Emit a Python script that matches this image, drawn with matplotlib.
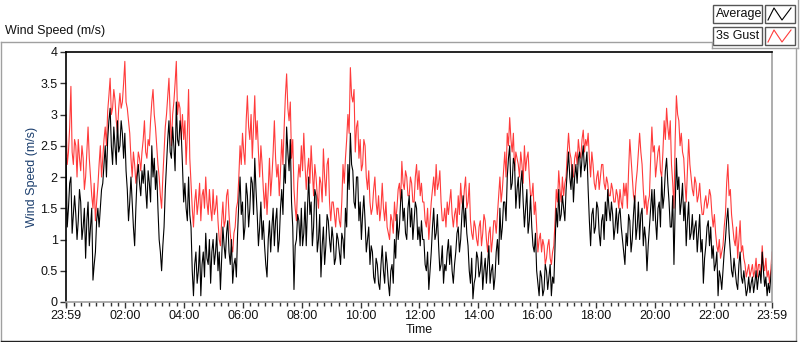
import numpy as np
import matplotlib
matplotlib.use("Agg")
import matplotlib.pyplot as plt
from matplotlib.lines import Line2D
from matplotlib.patches import Rectangle

plt.rcParams['font.family'] = ['Liberation Sans', 'DejaVu Sans']

# readings on the 5-minute grid, 23:59 -> 23:59 (minutes since start)
average = [
    2.3, 1.5, 2.0, 1.4, 1.4, 1.3, 1.6, 1.2, 0.7, 1.6, 1.2, 0.35,
    0.8, 1.5, 1.5, 1.9, 2.5, 2.6, 3.1, 2.2, 2.5, 2.9, 2.5, 2.7,
    2.7, 1.8, 1.6, 1.6, 0.9, 2.0, 1.9, 2.1, 2.2, 1.5, 1.9, 2.5,
    2.3, 2.1, 1.0, 0.5, 1.2, 2.2, 2.9, 2.3, 2.5, 3.2, 2.5, 2.7,
    1.6, 1.5, 2.0, 1.2, 0.1, 0.8, 0.5, 0.1, 0.8, 1.1, 0.6, 0.3,
    1.0, 0.8, 0.5, 0.2, 1.2, 0.7, 1.3, 0.6, 0.3, 0.7, 1.1, 2.0,
    1.6, 1.2, 1.7, 1.5, 1.9, 2.3, 1.4, 1.2, 1.0, 0.9, 0.4, 1.3,
    1.2, 0.9, 1.5, 1.0, 1.8, 2.2, 2.8, 2.1, 1.6, 0.2, 1.0, 1.3,
    1.5, 1.1, 0.9, 2.0, 1.6, 1.2, 1.7, 1.0, 0.4, 1.2, 0.9, 1.3,
    0.8, 1.0, 0.7, 1.0, 0.6, 1.0, 1.5, 2.2, 2.7, 2.1, 1.5, 2.0,
    1.6, 1.4, 1.3, 1.0, 0.6, 0.8, 0.3, 0.6, 0.2, 0.9, 0.3, 0.6,
    0.1, 0.6, 1.0, 1.4, 1.2, 1.8, 1.5, 1.0, 1.7, 1.5, 1.3, 1.5,
    1.2, 1.3, 1.0, 0.5, 0.2, 0.8, 1.5, 1.1, 0.9, 0.6, 0.3, 0.5,
    1.0, 0.9, 0.3, 0.8, 1.2, 1.0, 1.7, 1.5, 0.9, 0.3, 0.05, 0.4,
    0.7, 0.5, 0.2, 0.7, 0.6, 0.3, 0.6, 0.4, 1.0, 1.5, 1.2, 1.6,
    2.0, 2.5, 1.9, 2.2, 1.8, 1.5, 2.1, 1.2, 1.8, 1.3, 1.2, 0.8,
    0.5, 0.1, 0.4, 0.2, 0.5, 0.4, 0.1, 0.3, 1.5, 1.8, 1.4, 1.5,
    1.8, 2.4, 1.8, 1.6, 2.2, 2.3, 2.0, 2.5, 2.2, 1.8, 0.9, 1.5,
    1.2, 1.5, 0.9, 1.4, 1.6, 1.8, 1.3, 1.4, 1.2, 1.1, 1.5, 1.0,
    0.6, 0.9, 1.3, 1.0, 1.7, 1.2, 1.0, 1.5, 1.2, 0.5, 1.2, 1.8,
    1.8, 1.0, 1.6, 2.0, 1.7, 2.3, 1.6, 1.2, 0.6, 2.3, 2.0, 1.6,
    1.3, 0.9, 1.6, 1.1, 1.0, 1.3, 1.1, 0.8, 0.3, 0.9, 1.3, 1.2,
    0.9, 0.6, 0.1, 0.4, 0.5, 1.0, 1.5, 0.8, 0.4, 0.5, 0.2, 0.8,
    0.3, 0.3, 0.2, 0.15, 0.4, 0.3, 0.2, 0.5, 0.8, 0.25, 0.1, 0.15,
    0.6,
]
# readings halfway between the 5-minute samples
average_mid = [
    1.2, 1.9, 1.1, 1.7, 1.0, 1.8, 1.0, 1.5, 1.3, 0.9, 1.5, 0.6,
    1.3, 1.2, 1.8, 2.2, 2.0, 2.9, 2.5, 2.8, 2.2, 2.4, 2.9, 2.3,
    2.1, 1.3, 2.0, 1.2, 1.5, 2.2, 1.7, 1.9, 1.8, 2.1, 1.6, 2.0,
    1.8, 1.5, 0.8, 0.9, 1.8, 2.6, 2.4, 2.8, 2.1, 2.6, 2.9, 2.2,
    1.9, 1.3, 1.4, 0.5, 0.6, 0.3, 0.9, 0.6, 0.4, 0.7, 1.0, 0.8,
    0.6, 1.1, 0.8, 0.7, 0.9, 1.1, 0.8, 1.0, 0.6, 0.4, 1.6, 1.4,
    1.0, 1.9, 1.2, 2.0, 1.4, 1.8, 0.9, 1.6, 1.3, 0.6, 1.0, 0.8,
    1.5, 1.3, 0.8, 1.5, 1.4, 1.9, 2.4, 2.6, 1.2, 0.9, 1.4, 0.9,
    0.9, 1.6, 1.5, 1.4, 0.9, 1.8, 0.8, 1.4, 0.9, 0.6, 1.4, 1.0,
    1.2, 0.6, 1.1, 0.8, 1.1, 0.7, 1.2, 1.8, 2.2, 1.6, 2.0, 1.3,
    1.0, 1.7, 0.8, 1.2, 0.9, 0.4, 0.7, 0.3, 0.6, 0.5, 0.8, 0.3,
    0.5, 0.3, 0.7, 1.0, 1.6, 1.3, 1.1, 1.5, 1.2, 1.0, 1.6, 1.0,
    0.9, 1.0, 0.6, 0.8, 0.5, 1.2, 1.0, 1.4, 0.5, 0.9, 0.6, 0.8,
    0.6, 0.5, 0.6, 1.1, 0.8, 1.4, 1.2, 1.1, 0.5, 0.7, 0.3, 0.8,
    0.4, 0.8, 0.5, 0.3, 0.9, 0.5, 0.2, 0.8, 0.6, 1.0, 1.6, 1.3,
    2.3, 1.8, 2.3, 1.5, 2.0, 1.9, 1.6, 1.5, 1.1, 1.7, 0.9, 1.1,
    0.3, 0.5, 0.1, 0.6, 0.2, 0.6, 0.4, 0.9, 1.2, 1.3, 1.7, 1.3,
    2.1, 2.0, 2.2, 2.0, 1.9, 2.4, 2.3, 2.1, 2.4, 1.3, 1.4, 1.1,
    1.6, 1.1, 1.3, 1.0, 1.3, 1.5, 1.6, 1.0, 1.5, 1.4, 1.2, 0.8,
    1.1, 1.4, 0.8, 1.4, 1.0, 1.6, 1.4, 0.9, 1.0, 0.9, 1.5, 1.3,
    1.3, 1.5, 1.2, 1.5, 2.1, 1.9, 1.2, 1.7, 1.5, 1.8, 1.4, 1.9,
    1.6, 1.3, 1.0, 1.4, 1.2, 0.8, 1.4, 1.0, 0.7, 1.2, 0.9, 0.7,
    0.5, 0.8, 0.5, 0.2, 0.8, 1.3, 1.1, 0.5, 0.7, 0.3, 0.6, 0.4,
    0.5, 0.1, 0.4, 0.3, 0.15, 0.5, 0.4, 0.3, 0.5, 0.4, 0.3, 0.4,
]

gust = [
    3.0, 2.4, 3.45, 2.2, 2.5, 2.6, 2.1, 2.3, 2.0, 2.8, 2.0, 1.5,
    1.3, 1.85, 2.5, 2.3, 2.8, 3.05, 3.58, 3.1, 3.23, 2.7, 3.34, 3.2,
    3.85, 3.1, 2.7, 2.0, 2.2, 2.1, 2.3, 2.4, 2.9, 2.3, 2.5, 3.2,
    3.0, 2.5, 2.0, 1.5, 2.4, 3.0, 3.58, 2.5, 3.2, 3.85, 3.2, 2.6,
    2.6, 2.2, 3.4, 1.9, 1.2, 1.8, 1.6, 1.3, 1.8, 2.0, 1.4, 1.5,
    1.8, 1.5, 1.3, 0.9, 1.6, 1.3, 1.8, 1.1, 0.8, 1.2, 1.6, 2.5,
    2.7, 2.2, 3.3, 2.6, 2.3, 3.3, 2.9, 2.0, 2.2, 1.5, 1.4, 2.3,
    2.0, 2.9, 2.0, 1.7, 2.6, 2.8, 3.65, 2.9, 2.3, 1.8, 1.3, 2.2,
    2.5, 2.7, 1.8, 2.3, 2.5, 1.7, 2.0, 1.5, 1.9, 2.45, 1.7, 2.3,
    1.3, 1.6, 1.2, 1.5, 1.2, 2.2, 2.3, 3.0, 3.75, 3.2, 2.4, 2.9,
    2.6, 2.2, 2.5, 1.8, 1.6, 1.5, 2.0, 1.4, 1.3, 1.9, 1.3, 1.2,
    1.0, 1.3, 1.6, 1.5, 1.9, 2.25, 1.8, 2.0, 1.7, 1.9, 1.6, 2.2,
    2.1, 1.9, 1.6, 1.2, 1.0, 1.6, 2.0, 2.2, 1.9, 1.6, 1.3, 1.2,
    1.4, 1.8, 1.2, 1.5, 1.7, 1.9, 1.5, 2.0, 1.6, 1.3, 1.0, 1.2,
    0.9, 1.3, 1.1, 1.3, 0.8, 1.2, 1.0, 1.3, 1.4, 2.0, 1.8, 2.4,
    2.7, 2.95, 2.4, 2.1, 2.3, 2.0, 2.2, 2.5, 2.3, 2.0, 1.7, 1.4,
    1.2, 1.0, 0.8, 0.9, 0.7, 1.0, 0.6, 0.9, 1.8, 2.1, 1.6, 1.7,
    2.0, 2.7, 2.3, 2.0, 2.4, 2.6, 2.3, 2.75, 2.6, 2.7, 2.0, 2.2,
    1.8, 2.1, 2.0, 2.2, 1.8, 1.9, 1.7, 1.8, 1.6, 1.7, 1.8, 1.5,
    1.7, 1.5, 2.6, 2.0, 1.6, 2.1, 2.7, 2.2, 1.5, 1.4, 1.7, 2.8,
    2.5, 2.2, 2.5, 2.0, 2.9, 3.1, 2.6, 2.2, 1.5, 3.3, 2.9, 2.7,
    2.3, 1.6, 2.6, 2.0, 1.7, 1.9, 1.7, 1.6, 1.4, 1.7, 1.6, 1.7,
    1.2, 1.1, 0.8, 0.7, 0.9, 1.4, 2.2, 1.8, 1.2, 0.9, 0.7, 1.3,
    0.9, 0.6, 0.5, 0.4, 0.6, 0.5, 0.4, 0.6, 0.9, 0.5, 0.4, 0.3,
    0.8,
]
gust_mid = [
    2.2, 2.8, 2.4, 2.6, 2.0, 2.3, 2.5, 1.8, 2.4, 2.3, 1.7, 1.9,
    1.6, 2.2, 2.0, 2.6, 2.5, 3.3, 3.0, 3.4, 2.9, 3.1, 3.1, 3.5,
    3.2, 2.9, 2.3, 2.4, 1.9, 2.4, 2.1, 2.6, 2.4, 2.6, 2.9, 3.4,
    2.8, 2.2, 1.7, 2.0, 2.8, 3.3, 3.0, 3.0, 3.5, 3.0, 3.1, 3.0,
    2.9, 2.7, 2.3, 1.5, 1.6, 1.4, 1.9, 1.7, 1.5, 1.6, 1.8, 1.3,
    1.4, 1.7, 1.0, 1.3, 1.2, 1.7, 1.4, 0.9, 1.1, 1.5, 2.0, 2.2,
    2.4, 2.9, 2.8, 3.0, 2.8, 2.6, 2.4, 2.5, 1.8, 1.9, 1.8, 1.7,
    2.4, 2.3, 2.2, 2.1, 2.2, 3.3, 3.1, 3.2, 2.6, 1.5, 1.9, 2.0,
    2.1, 2.2, 2.1, 1.9, 2.1, 2.2, 1.7, 2.0, 1.6, 2.0, 2.2, 1.6,
    1.6, 1.4, 1.5, 1.3, 1.6, 1.9, 2.6, 2.7, 3.3, 3.4, 2.8, 2.3,
    2.1, 2.6, 2.0, 2.1, 1.4, 1.8, 1.6, 1.7, 1.5, 1.5, 1.6, 1.1,
    1.4, 1.1, 1.3, 1.8, 1.6, 1.9, 2.1, 1.7, 2.0, 1.6, 2.0, 1.8,
    1.7, 1.6, 1.3, 1.5, 1.3, 1.8, 1.7, 1.8, 2.1, 1.3, 1.5, 1.6,
    1.6, 1.4, 1.4, 1.2, 1.4, 1.6, 1.8, 1.5, 1.9, 1.1, 1.3, 1.0,
    1.2, 0.9, 1.4, 1.0, 1.1, 0.8, 1.3, 1.1, 1.7, 1.6, 2.1, 2.0,
    2.5, 2.6, 2.7, 2.4, 2.2, 2.4, 1.9, 2.1, 2.4, 1.7, 1.9, 1.6,
    0.8, 1.1, 1.0, 0.6, 0.9, 0.7, 0.8, 1.3, 1.6, 1.8, 2.0, 1.9,
    2.4, 2.4, 2.0, 2.3, 2.2, 2.4, 2.6, 2.4, 2.5, 2.3, 2.4, 1.9,
    2.0, 1.8, 2.2, 1.9, 2.0, 1.7, 1.9, 1.6, 1.8, 1.5, 1.6, 1.9,
    1.9, 2.1, 2.3, 1.7, 1.9, 2.4, 2.4, 1.8, 1.7, 1.6, 2.3, 2.4,
    2.0, 2.4, 2.1, 2.4, 2.6, 2.8, 2.9, 1.9, 2.6, 3.0, 2.5, 2.4,
    1.9, 2.1, 2.2, 1.8, 2.0, 1.6, 1.9, 1.4, 1.6, 1.5, 1.8, 1.4,
    1.4, 0.9, 1.0, 0.8, 1.2, 1.9, 1.7, 1.4, 1.0, 1.2, 1.0, 0.8,
    0.7, 0.4, 0.6, 0.5, 0.4, 0.7, 0.6, 0.4, 0.6, 0.7, 0.5, 0.5,
]

tick_pos = [0] + [121 + 120 * i for i in range(11)] + [1440]
tick_labels = ['23:59', '02:00', '04:00', '06:00', '08:00', '10:00', '12:00',
               '14:00', '16:00', '18:00', '20:00', '22:00', '23:59']
y_ticks = [0, 0.5, 1, 1.5, 2, 2.5, 3, 3.5, 4]
y_labels = ['0', '0.5', '1', '1.5', '2', '2.5', '3', '3.5', '4']


def merge(main, mid):
    out = np.empty(len(main) + len(mid))
    out[0::2] = main
    out[1::2] = mid
    return out


minutes = np.arange(0, 1440.1, 2.5)
avg_series = merge(average, average_mid)
gust_series = merge(gust, gust_mid)

W, H = 800, 342
fig = plt.figure(figsize=(W / 100, H / 100), dpi=100)


def fx(x):
    return x / W


def fy(y):
    return 1 - y / H


ax = fig.add_axes([fx(66), fy(302), fx(772) - fx(66), fy(52) - fy(302)])
ax.plot(minutes, gust_series, color='#ff3b3b', lw=0.8)
ax.plot(minutes, avg_series, color='black', lw=0.8)

ax.set_xlim(0, 1440)
ax.set_ylim(0, 4)
ax.set_xticks(tick_pos)
ax.set_xticklabels(tick_labels)
ax.set_xticks([1 + 15 * i for i in range(96)], minor=True)
ax.set_yticks(y_ticks)
ax.set_yticklabels(y_labels)
ax.tick_params(axis='both', which='major', labelsize=9, length=4, width=1,
               color='#333333', labelcolor='#111111', pad=2)
ax.tick_params(axis='x', which='minor', length=3, width=1, color='#333333')

ax.spines['top'].set_color('black')
ax.spines['left'].set_color('black')
ax.spines['bottom'].set_color('#a0a0a0')
ax.spines['right'].set_color('#a0a0a0')
for s in ax.spines.values():
    s.set_linewidth(1.2)

ax.set_xlabel('Time', fontsize=9, color='#111111', labelpad=1)
ax.set_ylabel('Wind Speed (m/s)', fontsize=9, color='#1c3f6e', labelpad=2)

# title above the frame
fig.text(fx(5), fy(31), 'Wind Speed (m/s)', fontsize=9, color='#111111',
         va='center', ha='left')

# outer grey frame
frame_col = '#a0a0a0'
for xs, ys in [((1, 712), (42, 42)), ((1, 1), (42, 341)),
               ((796, 796), (48, 341)),
               ((712, 712), (42, 48)), ((712, 798), (48, 48)),
               ((798, 798), (0, 48))]:
    fig.add_artist(Line2D([fx(v) for v in xs], [fy(v) for v in ys],
                          color=frame_col, lw=1))
fig.add_artist(Line2D([fx(1), fx(796)], [fy(341), fy(341)], color='#222222', lw=1))

# legend boxes
for (label, col, top) in [('Average', 'black', 5), ('3s Gust', '#ff3b3b', 27)]:
    fig.add_artist(Rectangle((fx(713), fy(top + 18)), fx(49), fy(0) - fy(18),
                             facecolor='white', edgecolor='#555555', lw=1))
    fig.text(fx(716), fy(top + 9), label, fontsize=9, color='#111111',
             va='center', ha='left')
    fig.add_artist(Rectangle((fx(765), fy(top + 18)), fx(30), fy(0) - fy(18),
                             facecolor='white', edgecolor='#555555', lw=1))
    fig.add_artist(Line2D([fx(768), fx(774), fx(782), fx(791)],
                          [fy(top + 15), fy(top + 3), fy(top + 15), fy(top + 3)],
                          color=col, lw=0.8))

fig.savefig('out.png', dpi=100)
